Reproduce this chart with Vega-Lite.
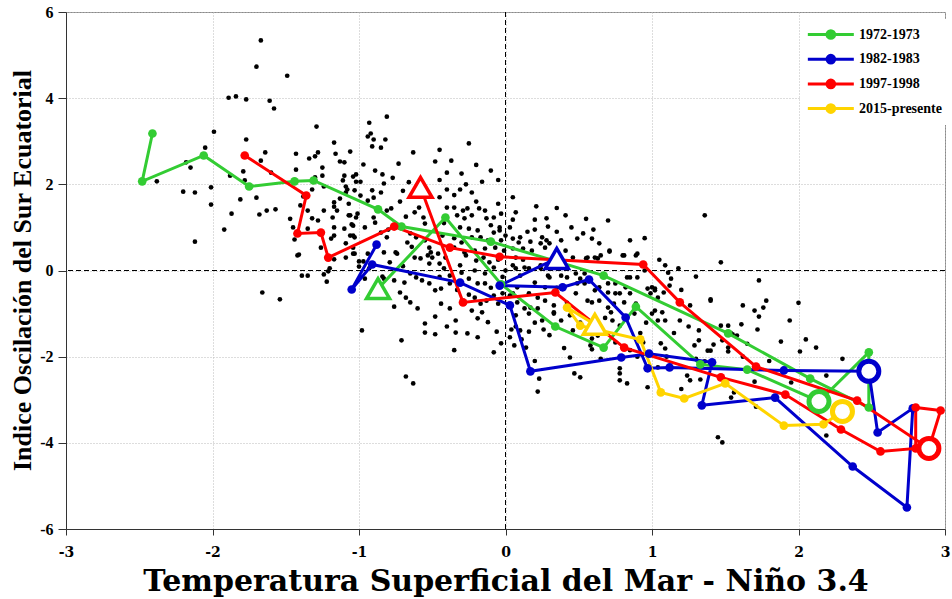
{
  "$schema": "https://vega.github.io/schema/vega-lite/v6.json",
  "width": 879,
  "height": 517,
  "autosize": {"type": "none"},
  "padding": {"left": 66, "top": 12, "right": 7, "bottom": 70},
  "background": "white",
  "config": {
    "view": {"stroke": "#8a8a8a", "strokeWidth": 1},
    "axis": {"domainColor": "#333", "tickColor": "#333", "gridColor": "#bbbbbb", "gridDash": [1, 2], "gridWidth": 1, "labelColor": "black", "titleColor": "black"}
  },
  "datasets": {
    "nube": [
      {"x":-1.67,"y":5.34},{"x":-1.70,"y":4.73},{"x":-1.49,"y":4.52},{"x":-1.89,"y":4.01},{"x":-1.84,"y":4.04},{"x":-1.77,"y":3.97},{"x":-1.61,"y":3.94},{"x":-1.58,"y":3.76},{"x":-1.99,"y":3.22},{"x":-1.29,"y":3.34},
      {"x":-1.77,"y":3.04},{"x":-2.05,"y":2.85},{"x":-1.64,"y":2.74},{"x":-1.67,"y":2.55},{"x":-2.18,"y":2.51},{"x":-2.15,"y":2.39},{"x":-1.79,"y":2.30},{"x":-1.60,"y":2.27},{"x":-1.88,"y":2.20},{"x":-2.38,"y":2.07},
      {"x":-2.01,"y":1.93},{"x":-1.78,"y":2.09},{"x":-2.20,"y":1.83},{"x":-2.12,"y":1.81},{"x":-2.01,"y":1.53},{"x":-1.81,"y":1.65},{"x":-1.70,"y":1.69},{"x":-1.87,"y":1.32},{"x":-1.92,"y":0.95},{"x":-2.12,"y":0.67},
      {"x":-1.63,"y":1.39},{"x":-1.57,"y":1.42},{"x":-1.68,"y":1.30},{"x":-1.66,"y":-0.51},{"x":-1.54,"y":-0.67},{"x":-0.81,"y":3.57},
      {"x":-1.43,"y":2.71},{"x":-1.28,"y":2.74},{"x":-1.16,"y":2.71},{"x":-1.06,"y":2.76},{"x":-1.17,"y":2.97},{"x":-1.34,"y":2.60},{"x":-1.30,"y":2.65},{"x":-1.43,"y":2.34},{"x":-1.25,"y":2.39},{"x":-1.13,"y":2.53},
      {"x":-1.10,"y":2.51},{"x":-1.25,"y":2.20},{"x":-1.30,"y":2.16},{"x":-1.44,"y":0.72},{"x":-1.42,"y":0.35},{"x":-1.32,"y":1.88},{"x":-1.30,"y":2.09},{"x":-1.24,"y":1.95},{"x":-1.35,"y":1.39},{"x":-1.32,"y":1.21},
      {"x":-1.28,"y":1.16},{"x":-1.24,"y":1.39},{"x":-1.17,"y":1.48},{"x":-1.13,"y":1.67},{"x":-1.09,"y":1.81},{"x":-1.11,"y":2.09},{"x":-1.09,"y":1.95},{"x":-1.03,"y":1.86},{"x":-1.10,"y":2.20},{"x":-1.04,"y":2.18},
      {"x":-1.17,"y":1.58},{"x":-1.18,"y":1.23},{"x":-1.17,"y":1.00},{"x":-1.19,"y":0.74},{"x":-1.26,"y":0.53},{"x":-1.22,"y":0.30},{"x":-1.09,"y":0.63},{"x":-1.04,"y":0.53},{"x":-1.06,"y":0.81},{"x":-1.15,"y":1.39},
      {"x":-1.07,"y":1.55},{"x":-1.17,"y":0.81},{"x":-1.10,"y":0.97},{"x":-1.04,"y":1.04},{"x":-1.07,"y":1.28},{"x":-1.02,"y":1.23},{"x":-1.03,"y":0.77},{"x":-1.40,"y":1.51},{"x":-1.35,"y":0.97},{"x":-1.41,"y":0.37},
      {"x":-1.39,"y":-0.12},{"x":-1.35,"y":-0.12},{"x":-1.24,"y":-0.09},{"x":-1.22,"y":-0.26},{"x":-1.21,"y":-0.02},{"x":-1.17,"y":0.26},{"x":-1.09,"y":0.30},{"x":-1.04,"y":0.39},{"x":-1.00,"y":0.21},{"x":-0.97,"y":0.21},
      {"x":-1.00,"y":0.09},{"x":-0.96,"y":-0.19},{"x":-0.98,"y":-1.39},{"x":-1.47,"y":1.20},{"x":-1.45,"y":1.00},{"x":-1.38,"y":1.72},{"x":-1.20,"y":0.05},
      {"x":-0.93,"y":3.43},{"x":-0.92,"y":3.18},{"x":-0.94,"y":3.11},{"x":-0.90,"y":3.04},{"x":-0.82,"y":3.04},{"x":-0.91,"y":2.88},{"x":-0.85,"y":2.85},{"x":-0.63,"y":2.74},{"x":-0.73,"y":2.48},{"x":-0.97,"y":2.46},
      {"x":-0.89,"y":2.32},{"x":-1.02,"y":2.23},{"x":-1.02,"y":2.06},{"x":-0.99,"y":2.06},{"x":-0.84,"y":2.23},{"x":-0.83,"y":2.02},{"x":-1.08,"y":1.88},{"x":-0.91,"y":1.86},{"x":-0.85,"y":1.81},{"x":-0.99,"y":1.74},
      {"x":-0.94,"y":1.62},{"x":-0.90,"y":1.69},{"x":-0.81,"y":1.39},{"x":-0.78,"y":1.44},{"x":-1.06,"y":1.28},{"x":-1.01,"y":1.32},{"x":-1.05,"y":1.07},{"x":-0.96,"y":1.00},{"x":-0.90,"y":1.23},{"x":-0.89,"y":1.11},
      {"x":-0.85,"y":0.88},{"x":-0.81,"y":0.77},{"x":-1.04,"y":0.81},{"x":-1.03,"y":0.39},{"x":-0.94,"y":0.39},{"x":-0.83,"y":0.42},{"x":-0.75,"y":0.42},{"x":-0.68,"y":1.25},{"x":-0.62,"y":1.35},{"x":-0.59,"y":1.46},
      {"x":-0.56,"y":1.23},{"x":-0.55,"y":1.09},{"x":-0.65,"y":0.86},{"x":-0.61,"y":0.77},{"x":-0.67,"y":0.65},{"x":-0.55,"y":0.70},{"x":-0.52,"y":0.53},{"x":-0.53,"y":0.35},{"x":-0.62,"y":0.30},{"x":-0.76,"y":-0.84},
      {"x":-0.84,"y":-0.14},{"x":-0.83,"y":-0.19},{"x":-0.79,"y":0.19},{"x":-0.74,"y":0.39},{"x":-0.76,"y":-0.23},{"x":-0.69,"y":-0.28},{"x":-0.72,"y":-0.51},{"x":-0.68,"y":-0.63},{"x":-0.71,"y":-1.62},{"x":-0.68,"y":-2.46},
      {"x":-0.63,"y":-2.62},{"x":-0.55,"y":-1.23},{"x":-0.55,"y":-1.44},{"x":-0.61,"y":-0.16},{"x":-0.65,"y":-0.07},{"x":-0.57,"y":-0.23},{"x":-0.58,"y":0.28},{"x":-0.60,"y":-0.88},{"x":-0.65,"y":-0.74},{"x":-0.72,"y":1.60},
      {"x":-0.70,"y":1.85},{"x":-0.66,"y":2.05},{"x":-0.77,"y":2.15},{"x":-0.60,"y":1.95},{"x":-0.75,"y":1.05},{"x":-0.88,"y":0.60},{"x":-0.93,"y":0.05},{"x":-0.87,"y":-0.45},{"x":-0.80,"y":0.95},{"x":-0.70,"y":0.10},
      {"x":-0.64,"y":0.55},
      {"x":-0.48,"y":2.53},{"x":-0.37,"y":2.55},{"x":-0.40,"y":2.27},{"x":-0.10,"y":2.32},{"x":-0.27,"y":2.00},{"x":-0.16,"y":2.06},{"x":-0.23,"y":1.81},{"x":-0.31,"y":1.88},{"x":-0.40,"y":1.88},{"x":-0.03,"y":1.32},
      {"x":-0.08,"y":1.23},{"x":-0.46,"y":0.39},{"x":-0.43,"y":0.81},{"x":-0.40,"y":1.46},{"x":-0.35,"y":1.46},{"x":-0.33,"y":1.28},{"x":-0.29,"y":1.39},{"x":-0.28,"y":1.21},{"x":-0.26,"y":1.44},{"x":-0.23,"y":1.28},
      {"x":-0.18,"y":1.44},{"x":-0.14,"y":1.39},{"x":-0.13,"y":1.21},{"x":-0.31,"y":1.00},{"x":-0.25,"y":0.97},{"x":-0.19,"y":0.93},{"x":-0.17,"y":0.77},{"x":-0.23,"y":0.77},{"x":-0.12,"y":0.70},{"x":-0.08,"y":0.88},
      {"x":-0.04,"y":1.00},{"x":-0.03,"y":0.70},{"x":-0.07,"y":0.53},{"x":-0.14,"y":0.51},{"x":-0.21,"y":0.46},{"x":-0.28,"y":0.42},{"x":-0.35,"y":0.53},{"x":-0.41,"y":0.30},{"x":-0.50,"y":0.30},{"x":-0.51,"y":0.42},
      {"x":-0.52,"y":0.16},{"x":-0.45,"y":0.16},{"x":-0.42,"y":0.05},{"x":-0.38,"y":-0.12},{"x":-0.52,"y":-0.30},{"x":-0.38,"y":-0.30},{"x":-0.44,"y":-0.42},{"x":-0.48,"y":-0.46},{"x":-0.25,"y":-0.19},{"x":-0.19,"y":-0.30},
      {"x":-0.14,"y":-0.07},{"x":-0.14,"y":-0.30},{"x":-0.21,"y":0.00},{"x":-0.31,"y":0.12},{"x":-0.20,"y":0.23},{"x":-0.11,"y":0.19},{"x":-0.08,"y":0.07},{"x":-0.27,"y":0.35},{"x":-0.02,"y":-0.53},{"x":-0.08,"y":-0.58},
      {"x":-0.05,"y":-0.77},{"x":-0.13,"y":-0.70},{"x":-0.17,"y":-0.77},{"x":-0.21,"y":-0.63},{"x":-0.44,"y":-0.77},{"x":-0.38,"y":-0.88},{"x":-0.34,"y":-1.16},{"x":-0.25,"y":-0.56},{"x":-0.23,"y":-0.93},{"x":-0.19,"y":-1.11},
      {"x":-0.16,"y":-0.97},{"x":-0.06,"y":-1.42},{"x":-0.08,"y":-1.90},{"x":-0.03,"y":-1.69},{"x":-0.48,"y":-1.07},{"x":-0.48,"y":-1.48},{"x":-0.34,"y":-1.44},{"x":-0.19,"y":-1.55},{"x":-0.26,"y":-1.46},{"x":-0.45,"y":1.70},
      {"x":-0.35,"y":1.75},{"x":-0.45,"y":2.10},{"x":-0.30,"y":2.25},{"x":-0.20,"y":1.60},{"x":-0.05,"y":1.55},{"x":-0.10,"y":1.05},{"x":-0.35,"y":0.75},{"x":-0.42,"y":1.10},{"x":-0.30,"y":0.65},{"x":-0.15,"y":0.30},
      {"x":-0.05,"y":0.25},{"x":-0.30,"y":-0.05},{"x":-0.45,"y":-0.15},{"x":-0.02,"y":-0.15},{"x":-0.33,"y":-0.45},{"x":-0.10,"y":-0.40},{"x":-0.28,"y":-0.75},{"x":-0.40,"y":-1.30},{"x":-0.12,"y":-1.20},{"x":-0.35,"y":-1.85},
      {"x":-0.45,"y":2.80},{"x":-0.25,"y":2.95},{"x":-0.20,"y":2.45},{"x":-0.05,"y":2.10},
      {"x":0.05,"y":1.70},{"x":0.07,"y":1.35},{"x":0.21,"y":1.49},{"x":0.05,"y":1.18},{"x":0.20,"y":1.18},{"x":0.28,"y":1.21},{"x":0.29,"y":1.02},{"x":0.20,"y":0.95},{"x":0.41,"y":1.28},{"x":0.03,"y":1.00},
      {"x":-0.04,"y":0.93},{"x":0.00,"y":0.81},{"x":0.05,"y":0.74},{"x":0.10,"y":0.77},{"x":0.09,"y":0.65},{"x":0.17,"y":0.67},{"x":0.25,"y":0.77},{"x":0.28,"y":0.70},{"x":0.24,"y":0.63},{"x":0.27,"y":0.53},
      {"x":0.30,"y":0.63},{"x":0.38,"y":0.70},{"x":0.49,"y":0.74},{"x":-0.01,"y":0.46},{"x":0.05,"y":0.51},{"x":0.07,"y":0.30},{"x":0.12,"y":0.51},{"x":0.18,"y":0.46},{"x":0.41,"y":0.46},{"x":0.46,"y":0.30},
      {"x":0.00,"y":0.00},{"x":0.07,"y":0.05},{"x":0.13,"y":0.07},{"x":0.24,"y":0.05},{"x":0.30,"y":-0.16},{"x":0.42,"y":-0.16},{"x":0.48,"y":-0.07},{"x":0.16,"y":-0.53},{"x":0.22,"y":-0.63},{"x":0.03,"y":-0.58},
      {"x":0.08,"y":-0.74},{"x":0.17,"y":-0.86},{"x":0.27,"y":-0.70},{"x":0.48,"y":-0.53},{"x":0.05,"y":0.12},{"x":0.10,"y":-0.12},{"x":0.16,"y":0.05},{"x":0.24,"y":0.12},{"x":0.29,"y":-0.12},{"x":0.20,"y":-0.28},
      {"x":0.27,"y":-0.39},{"x":0.08,"y":-0.39},{"x":0.05,"y":-0.53},{"x":0.13,"y":-0.88},{"x":0.16,"y":-1.00},{"x":0.22,"y":-0.88},{"x":0.25,"y":-1.16},{"x":0.20,"y":-1.21},{"x":0.07,"y":-1.04},{"x":0.03,"y":-1.55},
      {"x":0.06,"y":-1.74},{"x":0.04,"y":-1.37},{"x":0.07,"y":-1.30},{"x":0.10,"y":-1.39},{"x":0.11,"y":-1.60},{"x":0.16,"y":-1.42},{"x":0.14,"y":-1.79},{"x":0.23,"y":-2.51},{"x":0.22,"y":-2.81},{"x":0.26,"y":-1.37},
      {"x":0.33,"y":-1.00},{"x":0.33,"y":-0.81},{"x":0.35,"y":0.12},{"x":0.38,"y":-0.12},{"x":0.33,"y":-0.97},{"x":0.44,"y":-1.04},{"x":0.38,"y":-1.16},{"x":0.46,"y":-1.39},{"x":0.44,"y":-2.02},{"x":0.47,"y":-2.39},
      {"x":0.35,"y":0.90},{"x":0.45,"y":1.00},{"x":0.15,"y":0.90},{"x":0.40,"y":0.20},{"x":0.12,"y":0.25},{"x":0.35,"y":-0.40},{"x":0.42,"y":-0.75},{"x":0.30,"y":-1.50},{"x":0.40,"y":-1.80},{"x":0.20,"y":-2.10},
      {"x":0.35,"y":1.45},
      {"x":0.53,"y":0.86},{"x":0.59,"y":0.74},{"x":0.64,"y":0.63},{"x":0.70,"y":1.16},{"x":0.56,"y":0.30},{"x":0.63,"y":0.28},{"x":0.71,"y":0.46},{"x":0.80,"y":0.35},{"x":0.90,"y":0.39},{"x":0.65,"y":0.35},
      {"x":0.71,"y":0.44},{"x":0.81,"y":0.35},{"x":0.89,"y":0.35},{"x":0.61,"y":0.30},{"x":0.55,"y":0.28},{"x":0.51,"y":-0.19},{"x":0.54,"y":-0.30},{"x":0.64,"y":-0.39},{"x":0.70,"y":-0.30},{"x":0.75,"y":-0.53},
      {"x":0.82,"y":-0.39},{"x":0.85,"y":-0.16},{"x":0.95,"y":0.00},{"x":0.59,"y":-0.74},{"x":0.70,"y":-0.86},{"x":0.81,"y":-0.74},{"x":0.54,"y":-0.07},{"x":0.83,"y":-0.16},{"x":0.90,"y":-0.16},{"x":0.75,"y":-0.30},
      {"x":0.49,"y":-0.30},{"x":0.61,"y":-0.46},{"x":0.70,"y":-0.51},{"x":0.78,"y":-0.53},{"x":0.85,"y":-0.53},{"x":0.97,"y":-0.42},{"x":0.99,"y":-0.53},{"x":0.56,"y":-0.70},{"x":0.64,"y":-0.70},{"x":0.74,"y":-0.77},
      {"x":0.89,"y":-0.77},{"x":0.72,"y":-0.97},{"x":0.73,"y":-1.16},{"x":0.78,"y":-1.28},{"x":0.96,"y":-1.21},{"x":0.51,"y":-1.21},{"x":0.59,"y":-1.58},{"x":0.63,"y":-1.51},{"x":0.58,"y":-1.74},{"x":0.59,"y":-1.83},
      {"x":0.75,"y":-1.67},{"x":0.94,"y":-1.67},{"x":0.51,"y":-2.48},{"x":0.78,"y":-2.27},{"x":0.78,"y":-2.39},{"x":0.78,"y":-2.55},{"x":0.83,"y":-2.62},{"x":0.97,"y":-2.71},{"x":0.60,"y":0.95},{"x":0.85,"y":0.70},
      {"x":0.95,"y":0.75},{"x":0.55,"y":1.20},{"x":0.68,"y":-1.10},{"x":0.88,"y":-1.00},{"x":0.92,"y":-1.45},{"x":0.65,"y":-2.05},{"x":0.90,"y":-2.00},{"x":0.85,"y":-1.85},
      {"x":1.00,"y":-0.39},{"x":1.02,"y":-0.46},{"x":1.09,"y":0.12},{"x":1.11,"y":-0.05},{"x":1.13,"y":-0.19},{"x":1.12,"y":-0.35},{"x":1.47,"y":0.19},{"x":1.30,"y":-0.14},{"x":1.02,"y":-0.42},{"x":1.04,"y":-0.63},
      {"x":1.08,"y":-0.51},{"x":1.02,"y":-0.93},{"x":1.07,"y":-0.97},{"x":1.26,"y":-0.81},{"x":1.40,"y":-0.70},{"x":1.47,"y":-1.28},{"x":1.00,"y":-1.00},{"x":1.04,"y":-1.16},{"x":1.09,"y":-1.16},{"x":1.19,"y":-1.16},
      {"x":1.06,"y":-1.69},{"x":1.09,"y":-1.81},{"x":1.29,"y":-1.74},{"x":1.40,"y":-1.86},{"x":1.04,"y":-2.25},{"x":1.24,"y":-2.44},{"x":1.26,"y":-2.55},{"x":1.45,"y":-3.87},{"x":1.48,"y":-3.99},{"x":1.40,"y":-0.67},
      {"x":1.32,"y":-1.39},{"x":1.48,"y":-1.62},{"x":1.32,"y":-1.62},{"x":1.42,"y":-1.72},{"x":1.38,"y":-1.86},{"x":1.36,"y":-2.11},{"x":1.33,"y":-2.53},{"x":1.36,"y":1.28},{"x":1.05,"y":0.25},{"x":1.18,"y":0.05},
      {"x":1.20,"y":-0.45},{"x":1.15,"y":-1.45},{"x":1.25,"y":-1.30},{"x":1.10,"y":-2.00},{"x":1.30,"y":-2.05},{"x":1.20,"y":-2.75},
      {"x":1.62,"y":-0.81},{"x":1.54,"y":-1.46},{"x":1.58,"y":-1.51},{"x":1.52,"y":-1.79},{"x":1.54,"y":-2.95},{"x":1.73,"y":-0.23},{"x":1.70,"y":-0.93},{"x":1.76,"y":-0.86},{"x":1.73,"y":-1.07},{"x":1.94,"y":-1.16},
      {"x":1.52,"y":-1.28},{"x":1.61,"y":-1.25},{"x":1.72,"y":-1.37},{"x":1.55,"y":-1.48},{"x":1.88,"y":-1.65},{"x":2.05,"y":-1.60},{"x":2.12,"y":-1.79},{"x":2.01,"y":-1.88},{"x":1.52,"y":-1.88},{"x":1.62,"y":-2.00},
      {"x":1.70,"y":-2.58},{"x":1.56,"y":-2.83},{"x":1.71,"y":-3.16},{"x":2.19,"y":-2.44},{"x":2.19,"y":-3.83},{"x":1.80,"y":-2.10},{"x":1.65,"y":-1.70},{"x":2.00,"y":-0.75},{"x":1.95,"y":-2.60},{"x":2.30,"y":-2.05},
      {"x":1.78,"y":-0.70}
    ],
    "tray": [
      {"serie":"1972-1973","orden":1,"x":-0.87,"y":-0.42,"tipo":"inicio"},
      {"serie":"1972-1973","orden":2,"x":-0.41,"y":1.23,"tipo":"mes"},
      {"serie":"1972-1973","orden":3,"x":-0.03,"y":-0.32,"tipo":"mes"},
      {"serie":"1972-1973","orden":4,"x":0.34,"y":-1.30,"tipo":"mes"},
      {"serie":"1972-1973","orden":5,"x":0.67,"y":-1.79,"tipo":"mes"},
      {"serie":"1972-1973","orden":6,"x":0.89,"y":-0.84,"tipo":"mes"},
      {"serie":"1972-1973","orden":7,"x":1.33,"y":-2.18,"tipo":"mes"},
      {"serie":"1972-1973","orden":8,"x":1.65,"y":-2.30,"tipo":"mes"},
      {"serie":"1972-1973","orden":9,"x":2.14,"y":-3.04,"tipo":"pico"},
      {"serie":"1972-1973","orden":10,"x":2.48,"y":-1.90,"tipo":"mes"},
      {"serie":"1972-1973","orden":11,"x":2.48,"y":-3.18,"tipo":"mes"},
      {"serie":"1972-1973","orden":12,"x":2.08,"y":-2.51,"tipo":"mes"},
      {"serie":"1972-1973","orden":13,"x":1.52,"y":-1.46,"tipo":"mes"},
      {"serie":"1972-1973","orden":14,"x":0.67,"y":-0.12,"tipo":"mes"},
      {"serie":"1972-1973","orden":15,"x":-0.10,"y":0.67,"tipo":"mes"},
      {"serie":"1972-1973","orden":16,"x":-0.71,"y":1.02,"tipo":"mes"},
      {"serie":"1972-1973","orden":17,"x":-0.87,"y":1.42,"tipo":"mes"},
      {"serie":"1972-1973","orden":18,"x":-1.31,"y":2.09,"tipo":"mes"},
      {"serie":"1972-1973","orden":19,"x":-1.44,"y":2.07,"tipo":"mes"},
      {"serie":"1972-1973","orden":20,"x":-1.75,"y":1.95,"tipo":"mes"},
      {"serie":"1972-1973","orden":21,"x":-2.06,"y":2.67,"tipo":"mes"},
      {"serie":"1972-1973","orden":22,"x":-2.48,"y":2.07,"tipo":"mes"},
      {"serie":"1972-1973","orden":23,"x":-2.41,"y":3.18,"tipo":"mes"},
      {"serie":"1982-1983","orden":1,"x":0.35,"y":0.28,"tipo":"inicio"},
      {"serie":"1982-1983","orden":2,"x":-0.04,"y":-0.35,"tipo":"mes"},
      {"serie":"1982-1983","orden":3,"x":0.39,"y":-0.39,"tipo":"mes"},
      {"serie":"1982-1983","orden":4,"x":0.57,"y":-0.21,"tipo":"mes"},
      {"serie":"1982-1983","orden":5,"x":0.82,"y":-1.09,"tipo":"mes"},
      {"serie":"1982-1983","orden":6,"x":0.97,"y":-2.27,"tipo":"mes"},
      {"serie":"1982-1983","orden":7,"x":1.12,"y":-2.25,"tipo":"mes"},
      {"serie":"1982-1983","orden":8,"x":1.90,"y":-2.32,"tipo":"mes"},
      {"serie":"1982-1983","orden":9,"x":2.48,"y":-2.34,"tipo":"pico"},
      {"serie":"1982-1983","orden":10,"x":2.54,"y":-3.76,"tipo":"mes"},
      {"serie":"1982-1983","orden":11,"x":2.78,"y":-3.20,"tipo":"mes"},
      {"serie":"1982-1983","orden":12,"x":2.74,"y":-5.50,"tipo":"mes"},
      {"serie":"1982-1983","orden":13,"x":2.37,"y":-4.55,"tipo":"mes"},
      {"serie":"1982-1983","orden":14,"x":1.84,"y":-2.95,"tipo":"mes"},
      {"serie":"1982-1983","orden":15,"x":1.34,"y":-3.13,"tipo":"mes"},
      {"serie":"1982-1983","orden":16,"x":1.41,"y":-2.13,"tipo":"mes"},
      {"serie":"1982-1983","orden":17,"x":0.98,"y":-1.93,"tipo":"mes"},
      {"serie":"1982-1983","orden":18,"x":0.79,"y":-2.02,"tipo":"mes"},
      {"serie":"1982-1983","orden":19,"x":0.17,"y":-2.34,"tipo":"mes"},
      {"serie":"1982-1983","orden":20,"x":0.03,"y":-0.81,"tipo":"mes"},
      {"serie":"1982-1983","orden":21,"x":-0.31,"y":-0.28,"tipo":"mes"},
      {"serie":"1982-1983","orden":22,"x":-0.91,"y":0.14,"tipo":"mes"},
      {"serie":"1982-1983","orden":23,"x":-1.05,"y":-0.44,"tipo":"mes"},
      {"serie":"1982-1983","orden":24,"x":-0.88,"y":0.60,"tipo":"mes"},
      {"serie":"1997-1998","orden":1,"x":-0.58,"y":1.93,"tipo":"inicio"},
      {"serie":"1997-1998","orden":2,"x":-0.29,"y":-0.74,"tipo":"mes"},
      {"serie":"1997-1998","orden":3,"x":0.34,"y":-0.51,"tipo":"mes"},
      {"serie":"1997-1998","orden":4,"x":0.81,"y":-1.79,"tipo":"mes"},
      {"serie":"1997-1998","orden":5,"x":1.47,"y":-2.48,"tipo":"mes"},
      {"serie":"1997-1998","orden":6,"x":1.91,"y":-2.88,"tipo":"mes"},
      {"serie":"1997-1998","orden":7,"x":2.29,"y":-3.69,"tipo":"mes"},
      {"serie":"1997-1998","orden":8,"x":2.56,"y":-4.20,"tipo":"mes"},
      {"serie":"1997-1998","orden":9,"x":2.80,"y":-4.13,"tipo":"mes"},
      {"serie":"1997-1998","orden":10,"x":2.80,"y":-3.18,"tipo":"mes"},
      {"serie":"1997-1998","orden":11,"x":2.97,"y":-3.25,"tipo":"mes"},
      {"serie":"1997-1998","orden":12,"x":2.89,"y":-4.13,"tipo":"pico"},
      {"serie":"1997-1998","orden":13,"x":2.40,"y":-3.02,"tipo":"mes"},
      {"serie":"1997-1998","orden":14,"x":1.71,"y":-2.23,"tipo":"mes"},
      {"serie":"1997-1998","orden":15,"x":1.19,"y":-0.74,"tipo":"mes"},
      {"serie":"1997-1998","orden":16,"x":0.94,"y":0.14,"tipo":"mes"},
      {"serie":"1997-1998","orden":17,"x":-0.04,"y":0.32,"tipo":"mes"},
      {"serie":"1997-1998","orden":18,"x":-0.38,"y":0.53,"tipo":"mes"},
      {"serie":"1997-1998","orden":19,"x":-0.76,"y":1.02,"tipo":"mes"},
      {"serie":"1997-1998","orden":20,"x":-1.21,"y":0.30,"tipo":"mes"},
      {"serie":"1997-1998","orden":21,"x":-1.26,"y":0.88,"tipo":"mes"},
      {"serie":"1997-1998","orden":22,"x":-1.42,"y":0.86,"tipo":"mes"},
      {"serie":"1997-1998","orden":23,"x":-1.36,"y":1.74,"tipo":"mes"},
      {"serie":"1997-1998","orden":24,"x":-1.78,"y":2.67,"tipo":"mes"},
      {"serie":"2015-presente","orden":1,"x":0.61,"y":-1.25,"tipo":"inicio"},
      {"serie":"2015-presente","orden":2,"x":0.42,"y":-0.86,"tipo":"mes"},
      {"serie":"2015-presente","orden":3,"x":0.51,"y":-1.28,"tipo":"mes"},
      {"serie":"2015-presente","orden":4,"x":0.92,"y":-1.60,"tipo":"mes"},
      {"serie":"2015-presente","orden":5,"x":1.06,"y":-2.83,"tipo":"mes"},
      {"serie":"2015-presente","orden":6,"x":1.22,"y":-2.97,"tipo":"mes"},
      {"serie":"2015-presente","orden":7,"x":1.50,"y":-2.62,"tipo":"mes"},
      {"serie":"2015-presente","orden":8,"x":1.90,"y":-3.60,"tipo":"mes"},
      {"serie":"2015-presente","orden":9,"x":2.17,"y":-3.57,"tipo":"mes"},
      {"serie":"2015-presente","orden":10,"x":2.30,"y":-3.27,"tipo":"pico"}
    ]
  },
  "layer": [
    {
      "data": {"values": [{}]},
      "mark": {"type": "rule", "color": "black", "strokeDash": [5, 3], "strokeWidth": 1},
      "encoding": {"x": {"datum": 0, "type": "quantitative", "scale": {"domain": [-3, 3], "nice": false, "zero": false}}}
    },
    {
      "data": {"values": [{}]},
      "mark": {"type": "rule", "color": "black", "strokeDash": [5, 3], "strokeWidth": 1},
      "encoding": {"y": {"datum": 0, "type": "quantitative", "scale": {"domain": [-6, 6], "nice": false, "zero": false}}}
    },
    {
      "data": {"name": "nube"},
      "mark": {"type": "circle", "color": "black", "size": 22, "opacity": 1},
      "encoding": {
        "x": {"field": "x", "type": "quantitative", "scale": {"domain": [-3, 3], "nice": false, "zero": false},
          "axis": {"values": [-3, -2, -1, 0, 1, 2, 3], "labelExpr": "'' + datum.value", "title": "Temperatura Superficial del Mar - Niño 3.4",
            "titleFont": "DejaVu Serif", "titleFontSize": 30, "titleFontWeight": "bold", "titleY": 61, "titleBaseline": "alphabetic",
            "labelFont": "DejaVu Serif", "labelFontSize": 14, "labelFontWeight": "bold", "labelPadding": 10, "tickSize": 6,
            "grid": true, "labelFlush": false}},
        "y": {"field": "y", "type": "quantitative", "scale": {"domain": [-6, 6], "nice": false, "zero": false},
          "axis": {"values": [-6, -4, -2, 0, 2, 4, 6], "labelExpr": "'' + datum.value", "title": "Indice Oscilación del Sur Ecuatorial",
            "titleFont": "Liberation Serif", "titleFontSize": 26, "titleFontWeight": "bold", "titleX": -44, "titleY": 258, "titleBaseline": "middle", "titleAlign": "center",
            "labelFont": "Liberation Serif", "labelFontSize": 16, "labelFontWeight": "bold", "labelPadding": 5, "tickSize": 8,
            "grid": true, "labelFlush": false}}
      }
    },
    {
      "data": {"name": "tray"},
      "mark": {"type": "line", "strokeWidth": 3},
      "encoding": {
        "x": {"field": "x", "type": "quantitative", "scale": {"domain": [-3, 3], "nice": false, "zero": false}},
        "y": {"field": "y", "type": "quantitative", "scale": {"domain": [-6, 6], "nice": false, "zero": false}},
        "color": {"field": "serie", "type": "nominal", "scale": {"domain": ["1972-1973", "1982-1983", "1997-1998", "2015-presente"], "range": ["#33cc33", "#0000cc", "#ff0000", "#ffd400"]}},
        "order": {"field": "orden", "type": "quantitative"}
      }
    },
    {
      "data": {"name": "tray"},
      "transform": [{"filter": "datum.tipo == 'mes'"}],
      "mark": {"type": "circle", "size": 75, "opacity": 1},
      "encoding": {
        "x": {"field": "x", "type": "quantitative", "scale": {"domain": [-3, 3], "nice": false, "zero": false}},
        "y": {"field": "y", "type": "quantitative", "scale": {"domain": [-6, 6], "nice": false, "zero": false}},
        "color": {"field": "serie", "type": "nominal", "scale": {"domain": ["1972-1973", "1982-1983", "1997-1998", "2015-presente"], "range": ["#33cc33", "#0000cc", "#ff0000", "#ffd400"]},
          "legend": {"title": null, "orient": "none", "legendX": 734, "legendY": 7, "direction": "vertical",
            "symbolType": "M-1,0L5,0M1.5,0A0.5,0.5,0,1,1,2.5,0A0.5,0.5,0,1,1,1.5,0Z", "symbolSize": 235, "symbolStrokeWidth": 3,
            "labelOffset": 34, "rowPadding": 3.7, "padding": 6, "fillColor": "white",
            "labelFont": "Liberation Serif", "labelFontWeight": "bold", "labelFontSize": 14, "labelColor": "black",
            "encode": {"symbols": {"update": {"stroke": {"scale": "color", "field": "value"}, "fill": {"scale": "color", "field": "value"}, "strokeWidth": {"value": 3}, "opacity": {"value": 1}}}}}}
      }
    },
    {
      "data": {"name": "tray"},
      "transform": [{"filter": "datum.tipo == 'inicio'"}],
      "mark": {"type": "point", "shape": "triangle-up", "filled": false, "fill": "white", "size": 530, "strokeWidth": 3.5, "opacity": 1},
      "encoding": {
        "x": {"field": "x", "type": "quantitative", "scale": {"domain": [-3, 3], "nice": false, "zero": false}},
        "y": {"field": "y", "type": "quantitative", "scale": {"domain": [-6, 6], "nice": false, "zero": false}},
        "color": {"field": "serie", "type": "nominal", "scale": {"domain": ["1972-1973", "1982-1983", "1997-1998", "2015-presente"], "range": ["#33cc33", "#0000cc", "#ff0000", "#ffd400"]}}
      }
    },
    {
      "data": {"name": "tray"},
      "transform": [{"filter": "datum.tipo == 'pico'"}],
      "mark": {"type": "point", "shape": "circle", "filled": false, "fill": "white", "size": 400, "strokeWidth": 5, "opacity": 1},
      "encoding": {
        "x": {"field": "x", "type": "quantitative", "scale": {"domain": [-3, 3], "nice": false, "zero": false}},
        "y": {"field": "y", "type": "quantitative", "scale": {"domain": [-6, 6], "nice": false, "zero": false}},
        "color": {"field": "serie", "type": "nominal", "scale": {"domain": ["1972-1973", "1982-1983", "1997-1998", "2015-presente"], "range": ["#33cc33", "#0000cc", "#ff0000", "#ffd400"]}}
      }
    }
  ]
}
